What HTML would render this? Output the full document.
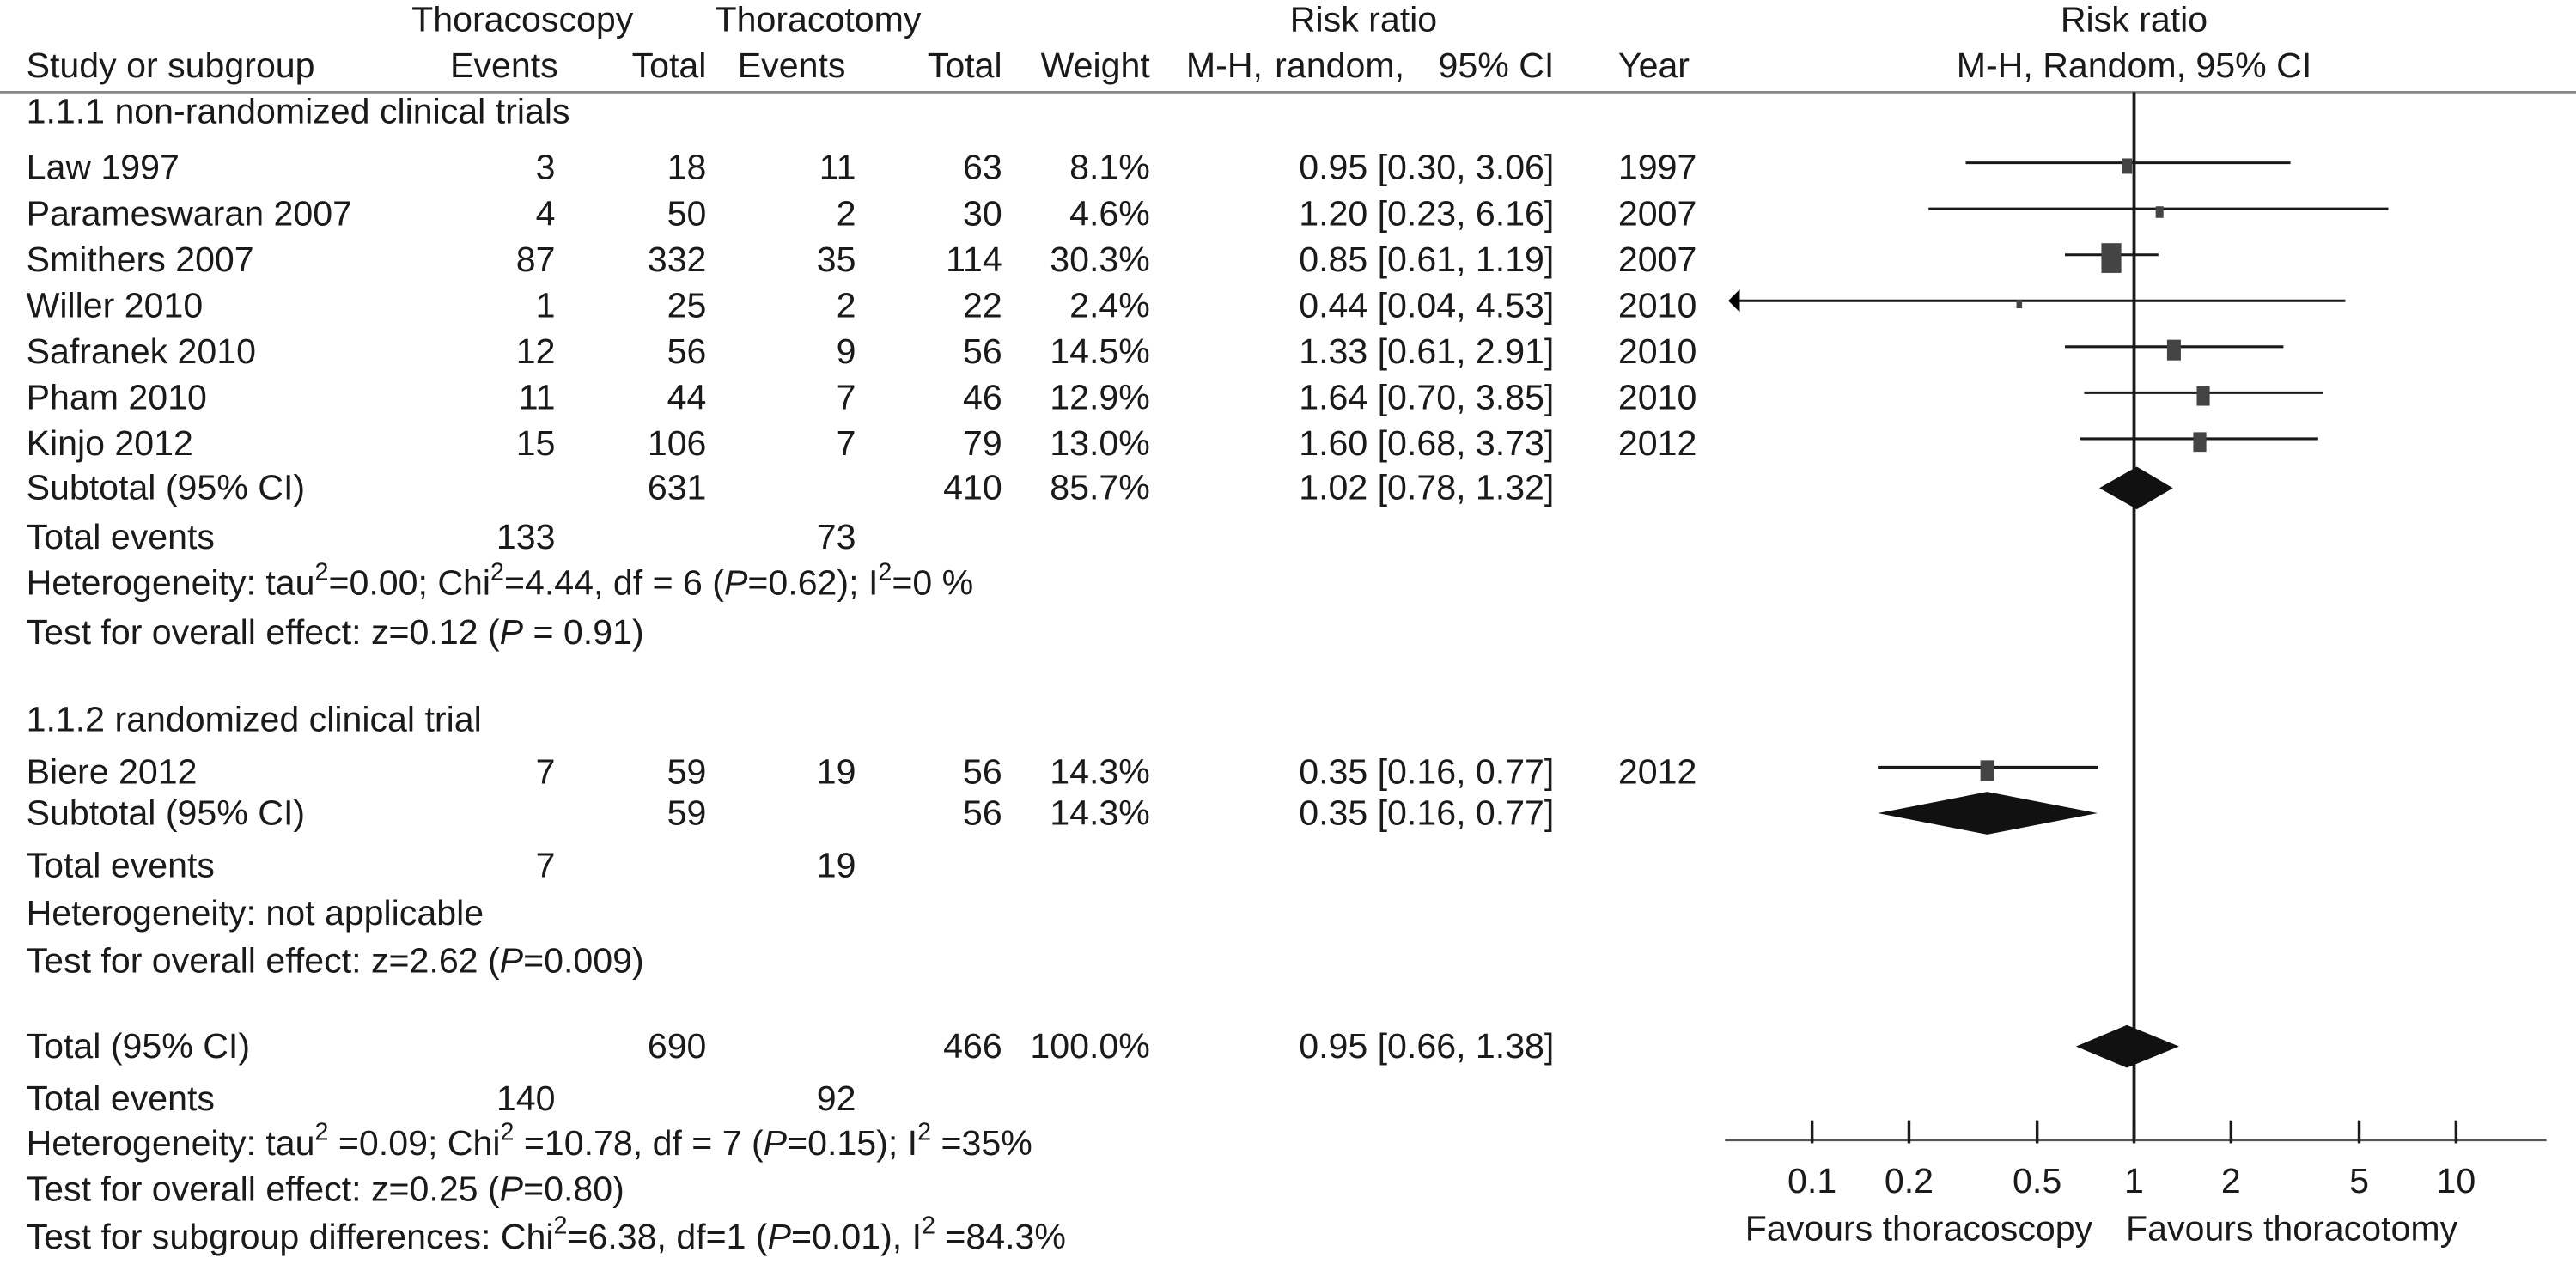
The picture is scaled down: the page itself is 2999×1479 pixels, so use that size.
<!DOCTYPE html>
<html><head><meta charset="utf-8"><style>
html,body{margin:0;padding:0;background:#fff;}
svg{display:block;}
text{font-family:"Liberation Sans",sans-serif;font-size:21.5px;fill:#1a1a1a;}
</style></head><body>
<svg id="fp" width="2999" height="1479" viewBox="0 0 1568 773" xmlns="http://www.w3.org/2000/svg">
<g id="hdr">
<text x="318" y="19" text-anchor="middle">Thoracoscopy</text>
<text x="498" y="19" text-anchor="middle">Thoracotomy</text>
<text x="830" y="19" text-anchor="middle">Risk ratio</text>
<text x="1299" y="19" text-anchor="middle">Risk ratio</text>
<text x="16" y="47">Study or subgroup</text>
<text x="274" y="47">Events</text>
<text x="430" y="47" text-anchor="end">Total</text>
<text x="449" y="47">Events</text>
<text x="610" y="47" text-anchor="end">Total</text>
<text x="700" y="47" text-anchor="end">Weight</text>
<text x="722" y="47">M-H,</text>
<text x="776" y="47">random,</text>
<text x="946" y="47" text-anchor="end">95% CI</text>
<text x="985" y="47">Year</text>
<text x="1299" y="47" text-anchor="middle">M-H, Random, 95% CI</text>
</g>
<line x1="0" y1="56" x2="1568" y2="56" stroke="#888" stroke-width="1.5"/>
<g id="txt">
<text x="16" y="75">1.1.1 non-randomized clinical trials</text>
<text x="16" y="304">Subtotal (95% CI)</text>
<text x="430" y="304" text-anchor="end">631</text>
<text x="610" y="304" text-anchor="end">410</text>
<text x="700" y="304" text-anchor="end">85.7%</text>
<text x="946" y="304" text-anchor="end">1.02 [0.78, 1.32]</text>
<text x="16" y="334">Total events</text>
<text x="338" y="334" text-anchor="end">133</text>
<text x="521" y="334" text-anchor="end">73</text>
<text x="16" y="362">Heterogeneity: tau<tspan dy="-9" font-size="15">2</tspan><tspan dy="9">=0.00; Chi</tspan><tspan dy="-9" font-size="15">2</tspan><tspan dy="9">=4.44, df = 6 (</tspan><tspan font-style="italic">P</tspan>=0.62);  I<tspan dy="-9" font-size="15">2</tspan><tspan dy="9">=0 %</tspan></text>
<text x="16" y="392">Test for overall effect: z=0.12 (<tspan font-style="italic">P</tspan> = 0.91)</text>
<text x="16" y="445">1.1.2 randomized clinical trial</text>
<text x="16" y="502">Subtotal (95% CI)</text>
<text x="430" y="502" text-anchor="end">59</text>
<text x="610" y="502" text-anchor="end">56</text>
<text x="700" y="502" text-anchor="end">14.3%</text>
<text x="946" y="502" text-anchor="end">0.35 [0.16, 0.77]</text>
<text x="16" y="534">Total events</text>
<text x="338" y="534" text-anchor="end">7</text>
<text x="521" y="534" text-anchor="end">19</text>
<text x="16" y="563">Heterogeneity: not applicable</text>
<text x="16" y="592">Test for overall effect: z=2.62 (<tspan font-style="italic">P</tspan>=0.009)</text>
<text x="16" y="644">Total (95% CI)</text>
<text x="430" y="644" text-anchor="end">690</text>
<text x="610" y="644" text-anchor="end">466</text>
<text x="700" y="644" text-anchor="end">100.0%</text>
<text x="946" y="644" text-anchor="end">0.95 [0.66, 1.38]</text>
<text x="16" y="676">Total events</text>
<text x="338" y="676" text-anchor="end">140</text>
<text x="521" y="676" text-anchor="end">92</text>
<text x="16" y="703">Heterogeneity: tau<tspan dy="-9" font-size="15">2</tspan><tspan dy="9"> =0.09; Chi</tspan><tspan dy="-9" font-size="15">2</tspan><tspan dy="9"> =10.78, df = 7 (</tspan><tspan font-style="italic">P</tspan>=0.15); I<tspan dy="-9" font-size="15">2</tspan><tspan dy="9"> =35%</tspan></text>
<text x="16" y="731">Test for overall effect: z=0.25 (<tspan font-style="italic">P</tspan>=0.80)</text>
<text x="16" y="760">Test for subgroup differences: Chi<tspan dy="-9" font-size="15">2</tspan><tspan dy="9">=6.38, df=1 (</tspan><tspan font-style="italic">P</tspan>=0.01), I<tspan dy="-9" font-size="15">2</tspan><tspan dy="9"> =84.3%</tspan></text>
<text x="1168" y="755" text-anchor="middle">Favours thoracoscopy</text>
<text x="1395" y="755" text-anchor="middle">Favours thoracotomy</text>
</g>
<g id="plot"></g>
<g id="rows"></g>
</svg>
<script>
const studies = ["Law 1997","Parameswaran 2007","Smithers 2007","Willer 2010","Safranek 2010","Pham 2010","Kinjo 2012","Biere 2012"];
const evA = [3,4,87,1,12,11,15,7];
const totA = [18,50,332,25,56,44,106,59];
const evB = [11,2,35,2,9,7,7,19];
const totB = [63,30,114,22,56,46,79,56];
const weights = [8.1,4.6,30.3,2.4,14.5,12.9,13.0,14.3];
const rr = [0.95,1.20,0.85,0.44,1.33,1.64,1.60,0.35];
const lo = [0.30,0.23,0.61,0.04,0.61,0.70,0.68,0.16];
const hi = [3.06,6.16,1.19,4.53,2.91,3.85,3.73,0.77];
const years = [1997,2007,2007,2010,2010,2010,2012,2012];
const diaEst = [1.02,0.35,0.95];
const diaLo = [0.78,0.16,0.66];
const diaHi = [1.32,0.77,1.38];
const tickVals = [0.1,0.2,0.5,1,2,5,10];
const tickLabels = ["0.1","0.2","0.5","1","2","5","10"];

const NS="http://www.w3.org/2000/svg";
const rowY=[102,130,158,186,214,242,270,470];
const diaY=[297,495,637];
const AX_MIN=1050, AX_MAX=1550, AX_Y=694;
function xs(v){return 1299+196*Math.log10(v);}
function mk(tag,attrs,parent,txt){const e=document.createElementNS(NS,tag);for(const k in attrs)e.setAttribute(k,attrs[k]);if(txt!==undefined)e.textContent=txt;parent.appendChild(e);return e;}
const plot=document.getElementById('plot'), rows=document.getElementById('rows');

const vl=mk('line',{x1:xs(1),x2:xs(1),y1:56,y2:AX_Y,stroke:'#1a1a1a','stroke-width':2},plot);


const ax=mk('line',{x1:AX_MIN,x2:AX_MAX,y1:AX_Y,y2:AX_Y,stroke:'#555','stroke-width':1.6},plot);


tickVals.forEach((v,i)=>{
  const t=mk('line',{x1:xs(v),x2:xs(v),y1:AX_Y-12,y2:AX_Y+2,stroke:'#1a1a1a','stroke-width':1.8},plot);
  
  
  const l=mk('text',{x:xs(v),y:AX_Y+32,'text-anchor':'middle'},plot,tickLabels[i]);
  
  
});

studies.forEach((s,i)=>{
  const y=rowY[i], ty=y+7;
  const g=mk('g',{},rows);
  
  
  mk('text',{x:16,y:ty},g,s);
  mk('text',{x:338,y:ty,'text-anchor':'end'},g,evA[i]);
  mk('text',{x:430,y:ty,'text-anchor':'end'},g,totA[i]);
  mk('text',{x:521,y:ty,'text-anchor':'end'},g,evB[i]);
  mk('text',{x:610,y:ty,'text-anchor':'end'},g,totB[i]);
  mk('text',{x:700,y:ty,'text-anchor':'end'},g,weights[i].toFixed(1)+'%');
  mk('text',{x:946,y:ty,'text-anchor':'end'},g,rr[i].toFixed(2)+' ['+lo[i].toFixed(2)+', '+hi[i].toFixed(2)+']');
  mk('text',{x:985,y:ty},g,years[i]);
  const ly=y-3;
  let x1=xs(lo[i]), x2=xs(hi[i]);
  const clip=x1<AX_MIN+3;
  if(clip)x1=AX_MIN+5;
  const ci=mk('line',{x1:x1,x2:x2,y1:ly,y2:ly,stroke:'#1a1a1a','stroke-width':1.6},plot);
  
  
  if(clip){
    const ar=mk('polygon',{points:(AX_MIN+2)+','+ly+' '+(AX_MIN+9)+','+(ly-7)+' '+(AX_MIN+9)+','+(ly+7)},plot);
    
    
  }
  const w=Math.sqrt(weights[i])*2.2, h=w*1.5;
  const sq=mk('rect',{x:xs(rr[i])-w/2,y:ly-h/2+2,width:w,height:h,fill:'#444'},plot);
  
  
});

diaEst.forEach((v,i)=>{
  const y=diaY[i];
  const d=mk('polygon',{points:xs(diaLo[i])+','+y+' '+xs(v)+','+(y-13)+' '+xs(diaHi[i])+','+y+' '+xs(v)+','+(y+13),fill:'#111'},plot);
  
  
});
</script>
</body></html>
